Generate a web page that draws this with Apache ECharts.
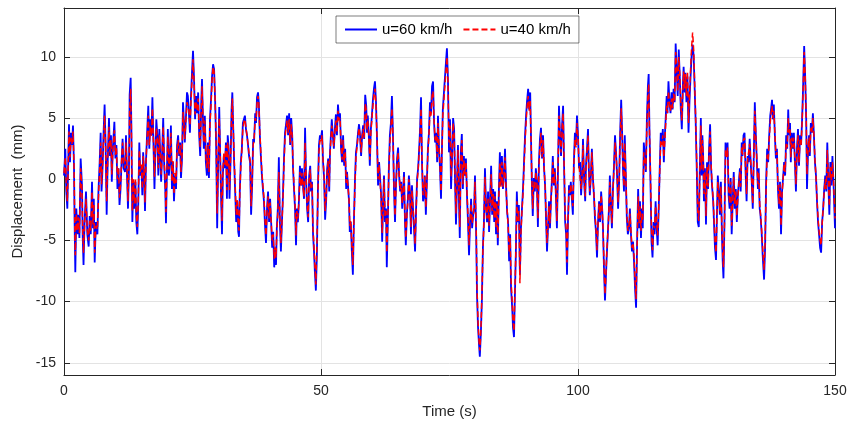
<!DOCTYPE html>
<html>
<head>
<meta charset="utf-8">
<script src="https://cdn.jsdelivr.net/npm/echarts@6/dist/echarts.min.js"></script>
<style>html,body{margin:0;padding:0;background:#fff}#c{width:851px;height:429px}</style>
</head>
<body>
<div id="c"></div>
<script>
// ---- data (time in s, displacement in mm) ----
const t1 = [0,0.26,0.45,0.65,0.97,1.17,1.36,1.56,1.75,1.95,2.07,2.2,2.4,2.6,2.8,3.0,3.24,3.5,3.63,3.8,4.0,4.28,4.54,4.8,5.0,5.2,5.45,5.64,5.8,5.97,6.2,6.5,6.7,6.94,7.13,7.3,7.5,7.7,7.9,8.1,8.3,8.5,8.75,8.95,9.14,9.3,9.5,9.8,10.0,10.2,10.4,10.6,10.8,11.0,11.2,11.4,11.6];
const b1 = [0.3,2.5,-1,-2.4,4.5,1.4,3.8,2.8,4.4,0.9,-3.7,-7.6,-2.4,-4.5,-2.9,-4.8,1.7,-0.5,-4.5,-7.0,-3.5,-1.0,-4.5,-5.5,-3.0,-4.5,-0.2,-4.0,-1.6,-6.8,-3.5,-4.5,-1.0,1.4,3.8,-1.0,0.9,3.8,6.1,2.8,-2.9,1.4,5.0,1.9,3.6,-0.2,2.5,4.7,1.7,2.8,-0.8,0.9,-2.1,-0.8,1.4,3.3,0.9];
const r1 = [0.5,1.8,-0.5,-1.8,3.9,1.8,3.4,2.9,3.9,1.2,-3.0,-6.2,-2.8,-4.2,-3.1,-4.4,0.9,-0.9,-4.0,-6.0,-3.8,-1.6,-4.2,-5.0,-3.4,-4.2,-1.0,-3.7,-2.0,-6.0,-3.8,-4.1,-1.6,0.8,3.0,-0.4,1.2,3.4,5.2,2.6,-1.8,1.6,4.3,2.2,3.2,0.4,2.4,4.0,2.0,2.6,0.0,1.0,-1.5,-0.4,1.4,3.0,1.2];

const t2 = [11.87,12.06,12.26,12.45,12.64,12.77,12.97,13.1,13.3,13.5,13.7,13.9,14.07,14.27,14.46,14.65,14.85,15.05,15.24,15.4,15.6,15.76,15.95,16.2,16.4,16.6,16.8,17.0,17.2,17.4,17.6,17.8,17.96,18.16,18.35,18.55,18.74,18.9,19.1,19.3,19.5,19.7,19.84,20.0,20.2,20.4,20.6,20.8,21.0,21.2,21.4,21.6,21.8,22.0,22.2,22.4,22.6,22.76,22.96,23.15,23.35,23.5,23.74,23.93];
const b2 = [0.6,3.6,0.3,-2.4,0.9,6.9,8.3,4.6,-3.5,-0.2,-2.4,-0.2,-3.5,-4.5,-1.8,3.0,0.3,1.1,-1.3,2.2,0.3,-2.6,1.4,4.1,6.0,2.5,4.9,3.6,6.7,3.0,-0.8,2.5,4.9,3.6,0.3,4.1,1.7,-0.2,2.2,5.0,1.1,-0.8,-3.6,0.1,4.1,0.3,1.4,4.4,-0.8,1.4,-1.8,0.3,-0.8,2.8,3.6,1.9,3.0,0.1,1.7,6.3,4.6,3.0,5.2,7.1];
const r2 = [0.9,3.0,0.8,-1.8,1.2,5.6,7.4,4.4,-2.6,0.0,-2.0,0.1,-3.0,-3.9,-1.5,2.4,0.6,1.2,-0.8,1.9,0.6,-1.9,1.5,3.6,5.2,2.8,4.3,3.5,5.8,3.1,0.2,2.6,4.2,3.4,0.9,3.6,1.9,0.4,2.1,4.3,1.4,-0.3,-2.7,0.5,3.5,0.8,1.6,3.8,-0.2,1.5,-1.2,0.5,-0.3,2.5,3.2,2.1,2.8,0.6,1.9,5.5,4.5,3.3,5.0,6.3];

const t3 = [24.1,24.3,24.5,24.7,24.9,25.1,25.3,25.5,25.7,25.9,26.1,26.3,26.5,26.7,26.85,27.05,27.2,27.4,27.6,27.8,28.0,28.2,28.4,28.6,28.8,29.0,29.2,29.4,29.6,29.8,29.96,30.2,30.35,30.55,30.74,30.9,31.1,31.3,31.5,31.7,31.85,32.0,32.2,32.4,32.6,32.75,32.9,33.1,33.3,33.5,33.7,33.9,34.05,34.2,34.4,34.6,34.8,35.0,35.2,35.4,35.6,35.8,36.0,36.2,36.4];
const b3 = [6.8,5.4,3.8,6.8,8.7,10.5,8.2,4.9,6.8,5.4,7.1,3.6,1.9,6.3,8.2,4.6,2.5,5.2,1.4,0.3,3.0,0.1,4.9,6.5,8.4,9.4,9.0,6.5,2.8,-4.0,0.3,5.9,2.8,-1.3,-4.5,0.3,1.9,0.9,3.0,-1.6,3.6,2.8,-1.6,1.4,5.7,7.1,4.6,1.4,-1.0,-3.5,-1.8,-4.3,-4.7,-1.0,1.4,2.5,4.6,4.9,5.2,4.1,3.6,2.8,1.9,1.4,-2.9];
const r3 = [6.2,5.6,4.4,6.3,8.0,9.8,8.0,5.3,6.4,5.6,6.6,4.0,2.6,5.8,7.6,4.9,3.0,4.8,1.9,0.9,2.8,0.6,4.5,6.0,8.0,9.2,8.8,6.6,3.2,-2.8,0.8,5.0,2.8,-0.6,-3.4,0.6,2.2,1.2,2.8,-0.9,3.0,2.5,-0.9,1.6,5.0,6.6,4.6,1.8,-0.4,-2.9,-1.6,-3.8,-4.2,-1.2,1.0,2.3,4.2,4.7,4.9,4.2,3.6,2.9,2.1,1.6,-2.2];

const t4 = [36.6,36.8,36.97,37.2,37.36,37.55,37.75,37.9,38.1,38.3,38.5,38.7,38.9,39.1,39.3,39.5,39.7,39.9,40.1,40.3,40.5,40.7,40.9,41.05,41.25,41.4,41.6,41.8,42.0,42.2,42.4,42.6,42.8,43.0,43.2,43.4,43.6,43.8,44.0,44.2,44.4,44.56,44.75,44.95,45.14,45.3,45.5,45.7,45.9,46.1,46.3,46.5,46.7,46.9,47.1,47.3,47.5,47.7,47.9,48.06,48.25,48.45,48.64,48.8,49.0];
const b4 = [-0.5,3.3,3.0,5.4,4.6,6.7,7.1,6.3,3.6,1.9,0.3,-0.8,-1.8,-3.7,-5.2,-2.4,-1.0,-3.5,-1.6,-3.5,-5.6,-4.3,-7.2,-5.6,-7.0,-4.0,-2.4,1.8,-3.5,-5.9,-3.5,-1.3,1.7,3.8,4.5,5.2,3.6,5.4,2.8,5.0,3.6,0.9,-0.8,-2.4,-5.4,-2.4,-3.5,-1.8,1.1,-0.5,0.9,-0.5,-1.6,4.2,0.1,-2.4,-3.5,0.3,1.1,-1.0,-0.2,-4.5,-5.9,-7.5,-9.1];
const r4 = [-0.2,2.8,3.2,5.0,4.8,6.2,6.8,6.2,3.8,2.2,0.6,-0.5,-1.5,-3.2,-4.6,-2.6,-1.4,-3.2,-1.9,-3.4,-5.0,-4.5,-6.5,-5.5,-6.4,-4.3,-2.8,0.6,-3.0,-5.2,-3.6,-1.6,1.2,3.4,4.2,4.8,3.8,4.9,3.0,4.5,3.5,1.2,-0.5,-2.0,-4.6,-2.6,-3.2,-1.9,0.6,-0.6,0.5,-0.6,-1.4,3.0,0.2,-2.0,-3.1,0.0,0.8,-0.8,-0.4,-4.0,-5.5,-7.0,-8.6];

const t5 = [49.2,49.4,49.6,49.8,50.0,50.2,50.4,50.6,50.8,51.0,51.2,51.4,51.6,51.75,51.95,52.1,52.3,52.5,52.7,52.9,53.1,53.3,53.5,53.7,53.9,54.1,54.3,54.5,54.7,54.9,55.06,55.25,55.45,55.6,55.8,56.0,56.2,56.4,56.6,56.8,57.0,57.2,57.4,57.6,57.8,58.0,58.2,58.4,58.6,58.8,58.95,59.1,59.3,59.5,59.7,59.9,60.1,60.3,60.5,60.7,60.9,61.1,61.3];
const b5 = [-6.2,-0.8,2.8,3.6,3.3,4.0,1.4,0.1,-3.3,-1.8,0.9,1.7,-1.0,2.2,3.8,4.9,3.6,2.5,4.1,5.3,3.6,6.1,4.9,5.4,2.5,1.4,3.6,1.1,2.5,-0.8,0.6,-0.5,-1.8,-4.3,-3.5,-5.9,-7.8,-3.5,-0.2,2.2,2.8,3.8,4.5,3.6,1.9,3.6,4.4,3.3,6.9,6.0,3.8,5.2,3.6,1.1,4.1,5.2,6.5,7.4,8.0,6.3,3.3,-0.5,1.4];
const r5 = [-5.4,-1.2,2.2,3.2,3.0,3.6,1.6,0.4,-2.6,-1.5,0.7,1.5,-0.6,2.0,3.4,4.4,3.4,2.7,3.9,4.8,3.8,5.6,4.8,5.0,2.8,1.6,3.2,1.4,2.2,-0.3,0.4,-0.6,-1.6,-3.8,-3.4,-5.4,-7.0,-3.6,-0.6,1.8,2.6,3.5,4.2,3.6,2.2,3.4,4.1,3.4,6.2,5.7,4.0,4.8,3.6,1.6,3.8,4.9,6.0,6.9,7.4,6.0,3.4,0.0,1.2];

const t6 = [61.7,61.9,62.1,62.26,62.45,62.65,62.8,63.0,63.2,63.4,63.6,63.8,64.0,64.2,64.4,64.6,64.8,65.0,65.2,65.4,65.6,65.8,66.0,66.15,66.34,66.5,66.7,66.9,67.1,67.3,67.5,67.7,67.9,68.1,68.3,68.5,68.7,68.9,69.1,69.3,69.46,69.65,69.85,70.04,70.2,70.4,70.6,70.8,71.0,71.2,71.4,71.6,71.8,72.0,72.2,72.4,72.6,72.76,72.96,73.15,73.35,73.5,73.7];
const b6 = [-1.3,-5.1,-1.8,0.3,-3.5,-2.4,-7.2,-3.5,0.9,3.6,4.6,6.8,3.6,-0.8,-3.5,-0.2,1.7,2.6,0.3,-1.0,-0.2,-2.4,-0.8,0.6,-3.5,-5.4,-2.9,-1.6,0.3,-1.0,-4.5,-0.5,-2.4,-4.0,-5.9,-2.4,0.1,0.9,2.5,4.4,6.7,1.4,-1.8,-1.3,0.3,-2.9,-0.2,2.5,3.8,6.3,5.4,7.6,8.0,4.6,3.0,3.8,1.4,5.2,2.5,0.9,-1.6,1.9,5.7];
const r6 = [-1.6,-4.4,-2.0,0.0,-3.0,-2.6,-6.0,-3.4,0.6,3.0,4.2,5.8,3.6,-0.4,-3.0,-0.6,1.4,2.2,0.5,-0.8,-0.4,-2.0,-0.9,0.3,-3.0,-4.8,-3.0,-1.8,0.0,-1.2,-3.9,-0.9,-2.3,-3.6,-5.3,-2.6,-0.3,0.8,2.2,4.0,5.8,1.6,-1.3,-1.0,0.2,-2.3,-0.1,2.2,3.6,5.6,5.2,6.8,7.2,4.8,3.2,3.6,1.8,4.6,2.6,1.2,-1.0,1.8,5.2];

const t7 = [74.3,74.5,74.7,74.9,75.1,75.3,75.5,75.7,75.9,76.07,76.26,76.5,76.65,76.85,77.0,77.2,77.4,77.6,77.8,78.0,78.2,78.4,78.6,78.8,79.0,79.2,79.4,79.6,79.8,79.96,80.2,80.35,80.55,80.74,80.9,81.1,81.3,81.5,81.7,81.9,82.1,82.3,82.5,82.7,82.9,83.1,83.3,83.5,83.7,83.85,84.05,84.2,84.4,84.6,84.8,85.0,85.2,85.4,85.6,85.8,86.0,86.2];
const b7 = [9.5,10.7,8.2,2.2,4.9,-0.8,1.7,5.0,4.1,0.1,-3.7,0.3,2.8,-1.8,-4.8,2.2,3.7,-0.8,1.9,0.3,1.7,-1.3,-3.5,-6.2,-3.5,-1.6,-4.0,-2.9,-2.4,0.3,-4.8,-9.4,-12.1,-13.5,-14.5,-12.6,-9.9,-5.6,-3.5,0.9,-2.1,-3.5,-1.0,-4.3,-1.6,1.1,-2.9,-0.8,-3.5,-1.0,-4.5,-1.8,-5.4,-1.0,2.2,-0.5,1.9,-0.8,0.3,2.5,-0.5,-2.6];
const r7 = [8.8,10.0,8.0,3.0,4.4,0.2,1.9,4.6,3.8,0.5,-2.8,0.4,2.4,-1.2,-3.9,1.6,3.2,-0.4,1.6,0.4,1.4,-1.0,-3.0,-5.4,-3.4,-2.0,-3.6,-3.0,-2.2,-0.2,-4.2,-8.8,-11.6,-13.2,-14.0,-12.4,-9.6,-5.8,-3.6,0.2,-2.4,-3.2,-1.6,-3.8,-1.8,0.4,-2.6,-1.2,-3.2,-1.4,-4.0,-2.0,-4.8,-1.4,1.4,-0.6,1.4,-0.6,0.2,1.8,-0.8,-2.4];

const t8 = [86.4,86.6,86.8,86.97,87.2,87.35,87.55,87.7,87.9,88.1,88.3,88.5,88.7,88.9,89.1,89.3,89.5,89.7,89.9,90.07,90.3,90.5,90.7,90.85,91.05,91.2,91.4,91.6,91.8,92.0,92.2,92.4,92.6,92.8,93.0,93.2,93.4,93.6,93.8,93.97,94.16,94.36,94.55,94.75,94.94,95.1,95.3,95.5,95.7,95.9,96.1,96.3,96.5,96.7,96.9,97.1,97.3,97.5,97.7,97.86,98.05,98.25,98.45,98.6];
const b8 = [-3.5,-6.7,-4.5,-8.9,-10.5,-12.1,-12.9,-9.9,-6.2,-1.0,-3.5,-2.1,-7.8,-4.0,-2.4,-0.8,1.4,3.6,5.2,6.3,7.4,5.7,7.1,3.6,-0.8,-3.0,0.1,-1.0,0.9,-0.2,-3.9,1.4,3.3,4.2,1.7,3.6,0.9,-0.5,-3.5,-5.9,-4.0,-1.8,-4.0,-1.6,0.1,1.9,-0.5,0.9,-1.3,-4.0,0.6,6.0,3.6,1.9,4.4,6.0,0.9,-3.5,-4.5,-7.8,-3.5,-0.5,-1.3,-0.2];
const r8 = [-3.8,-6.0,-4.8,-8.2,-10.0,-11.6,-12.4,-9.6,-6.0,-1.8,-3.4,-2.6,-8.5,-4.4,-2.6,-1.2,1.0,3.0,4.6,5.8,6.8,5.6,6.4,3.4,-0.4,-2.4,-0.2,-0.8,0.6,-0.4,-3.2,1.0,2.8,3.8,1.8,3.2,1.0,-0.6,-3.0,-5.2,-4.0,-2.2,-3.6,-1.8,-0.2,1.4,-0.4,0.6,-1.2,-3.4,0.8,5.2,3.6,2.2,4.0,5.4,1.2,-2.8,-4.2,-6.8,-3.6,-0.9,-1.2,-0.4];

const t9 = [99.0,99.2,99.4,99.6,99.8,100.0,100.2,100.4,100.6,100.8,100.97,101.2,101.4,101.55,101.75,101.95,102.1,102.3,102.5,102.7,102.9,103.1,103.3,103.5,103.7,103.9,104.1,104.3,104.5,104.7,104.86,105.05,105.25,105.45,105.6,105.8,106.0,106.2,106.4,106.6,106.8,107.0,107.2,107.4,107.6,107.8,108.0,108.2,108.4,108.6,108.75,108.95,109.1,109.3,109.5,109.7,109.9,110.1,110.3,110.5,110.7,110.9,111.1];
const b9 = [-2.9,1.4,3.8,2.8,5.2,3.6,0.9,1.4,-1.3,0.3,3.3,-0.2,-1.8,1.1,2.5,4.1,0.9,-1.3,0.3,2.5,0.1,-1.3,-3.2,-4.3,-6.4,-3.5,-1.8,-3.5,-1.0,-2.4,-4.0,-7.2,-9.9,-7.8,-6.2,-4.5,-2.6,0.3,-2.1,-4.0,-0.8,1.1,3.6,2.2,0.3,-2.4,-0.2,3.8,6.5,3.6,0.9,-1.0,3.6,0.3,-3.2,-4.5,-4.0,-2.4,-4.5,-5.9,-5.1,-6.7,-8.9];
const r9 = [-2.2,1.2,3.2,2.6,4.6,3.4,1.2,1.2,-0.8,0.4,2.8,-0.2,-1.4,1.0,2.2,3.6,1.0,-1.0,0.2,2.2,0.2,-1.2,-2.8,-4.0,-5.8,-3.6,-2.0,-3.2,-1.3,-2.4,-3.8,-6.8,-9.4,-7.6,-6.0,-4.4,-2.8,-0.2,-2.2,-3.6,-0.9,0.8,3.0,2.2,0.5,-1.9,-0.2,3.3,5.8,3.4,1.0,-0.6,3.0,0.3,-2.8,-4.2,-4.0,-2.8,-4.2,-5.6,-5.2,-6.2,-8.4];

const t10 = [111.3,111.5,111.7,111.9,112.06,112.25,112.45,112.6,112.8,113.0,113.2,113.4,113.6,113.75,113.9,114.1,114.3,114.5,114.7,114.9,115.1,115.3,115.5,115.7,115.9,116.1,116.3,116.5,116.7,116.9,117.05,117.25,117.4,117.6,117.8,118.0,118.2,118.4,118.6,118.8,119.0,119.2,119.4,119.6,119.8,120.0,120.2,120.4,120.55,120.75,120.9,121.1,121.3,121.5,121.7,121.9,122.1,122.3,122.5,122.7,122.9,123.1,123.3,123.5,123.7];
const b10 = [-10.5,-5.1,-0.8,-4.0,-1.8,-4.8,-2.4,-4.0,3.0,1.9,0.6,4.9,7.6,8.6,4.1,-0.2,-5.1,-6.4,-3.5,-4.5,-1.8,-4.0,-5.4,-2.4,0.9,3.8,2.8,4.1,1.4,3.6,4.9,6.8,5.4,8.0,6.3,5.4,7.1,5.7,7.4,6.3,11.1,9.0,6.8,10.6,8.4,5.7,4.1,7.6,9.2,7.1,8.7,6.3,8.4,3.8,6.5,8.4,10.1,11.0,10.1,7.4,4.6,0.9,-3.5,-3.9,0.9];
const r10 = [-9.8,-5.4,-1.4,-3.6,-2.2,-4.2,-2.8,-3.4,2.2,1.6,0.8,4.2,6.8,7.8,4.0,0.4,-4.2,-5.8,-3.8,-4.0,-2.2,-3.6,-4.6,-2.4,0.6,3.2,2.8,3.6,1.8,3.2,4.4,6.0,5.4,7.2,6.2,5.6,6.6,5.8,7.0,6.4,10.4,9.2,7.2,10.0,8.6,6.2,4.8,7.2,8.8,7.4,8.6,6.8,8.8,4.6,7.0,9.0,10.8,12.0,10.6,7.8,4.8,1.4,-2.8,-3.4,0.6];

const t11 = [123.9,124.05,124.2,124.35,124.5,124.7,124.9,125.1,125.3,125.5,125.7,125.9,126.07,126.3,126.5,126.65,126.85,127.0,127.2,127.4,127.6,127.8,128.0,128.15,128.3,128.5,128.7,128.9,129.1,129.3,129.5,129.7,129.9,130.1,130.3,130.5,130.7,130.9,131.1,131.3,131.5,131.65,131.85,132.0,132.2,132.4,132.6,132.8,133.0,133.2,133.4,133.6,133.8,134.0,134.2,134.4,134.6,134.8,135.0,135.15,135.35,135.5,135.74,135.93];
const b11 = [5.0,0.3,3.6,1.9,-1.8,0.9,-3.7,1.4,-0.8,2.5,4.5,0.9,-0.5,-1.8,-4.0,-5.6,-6.6,-3.5,0.3,-1.0,-2.9,-0.2,-4.5,-6.7,-8.1,-3.5,3.0,1.9,3.0,-1.3,-2.4,0.1,-4.5,-1.8,0.6,-2.4,-0.8,-3.5,-1.3,-0.2,0.9,-1.0,3.0,1.9,3.6,3.8,0.6,-1.8,1.9,1.4,3.3,1.4,-0.2,-2.4,1.9,6.3,3.6,1.4,-0.8,0.9,-2.4,-2.9,-4.5,-6.2];
const r11 = [4.4,0.8,3.2,2.0,-1.2,0.6,-3.0,1.0,-0.6,2.2,3.9,1.2,-0.2,-1.6,-3.6,-5.0,-6.0,-3.6,-0.2,-1.2,-2.6,-0.6,-4.0,-6.0,-7.2,-3.6,2.4,1.8,2.6,-0.8,-2.0,-0.2,-3.8,-1.8,0.2,-2.0,-1.0,-3.0,-1.5,-0.4,0.6,-0.6,2.6,2.0,3.2,3.4,1.0,-1.2,1.6,1.5,2.9,1.4,0.0,-2.0,1.6,5.6,3.6,1.6,-0.4,0.6,-2.0,-2.8,-4.2,-5.6];

const t12 = [136.2,136.4,136.6,136.8,137.0,137.2,137.4,137.55,137.75,137.9,138.1,138.3,138.5,138.7,138.9,139.1,139.3,139.5,139.7,139.9,140.1,140.3,140.5,140.7,140.9,141.05,141.25,141.4,141.6,141.8,142.0,142.2,142.4,142.6,142.8,143.0,143.2,143.4,143.6,143.8,144.0,144.2,144.4,144.55,144.75,144.95,145.1,145.3,145.5,145.7,145.9,146.1,146.3,146.5,146.7,146.9,147.1,147.3,147.5,147.7,147.9,148.1,148.3,148.5,148.7,148.9,149.1,149.3,149.5,149.7,150];
const b12 = [-8.2,-5.6,-0.2,2.5,1.4,3.6,5.2,5.7,6.5,4.9,6.1,3.6,1.7,2.5,-0.8,-2.4,-0.2,-4.5,-1.0,0.1,1.4,0.3,3.6,2.5,5.7,3.6,4.6,1.4,3.8,2.5,3.8,1.4,-1.0,2.5,4.1,1.1,3.6,2.8,4.9,7.6,10.9,8.4,4.9,-0.8,2.2,3.6,1.9,4.6,3.8,5.4,3.6,1.4,0.3,-1.8,-3.5,-4.5,-5.6,-6.0,-3.5,-2.4,-0.8,0.3,-1.0,3.0,-0.2,-2.9,1.4,-0.5,1.9,-0.2,-4.0];
const r12 = [-7.4,-5.2,-0.8,2.0,1.6,3.2,4.6,5.4,6.0,5.0,5.6,3.8,2.0,2.2,-0.4,-2.0,-0.4,-3.8,-1.2,0.0,1.2,0.6,3.0,2.6,5.0,3.8,4.2,1.8,3.4,2.6,3.4,1.6,-0.4,2.2,3.6,1.4,3.2,2.8,4.6,7.2,10.4,8.6,5.0,0.4,2.4,3.4,2.2,4.2,3.8,5.0,3.6,1.6,0.2,-1.6,-3.2,-4.2,-5.0,-5.4,-3.6,-2.4,-1.0,0.0,-0.8,2.4,0.2,-2.2,1.0,-0.2,1.4,0.0,-3.2];

const xTicks = [0, 50, 100, 150];
const yTicks = [-15, -10, -5, 0, 5, 10];
const seriesNames = ['u=60 km/h', 'u=40 km/h'];

// ---- build series ----
const segsT = [t1,t2,t3,t4,t5,t6,t7,t8,t9,t10,t11,t12];
const segsB = [b1,b2,b3,b4,b5,b6,b7,b8,b9,b10,b11,b12];
const segsR = [r1,r2,r3,r4,r5,r6,r7,r8,r9,r10,r11,r12];
function pairs(ts, vs) {
  const out = [];
  for (let s = 0; s < ts.length; s++) {
    const n = Math.min(ts[s].length, vs[s].length);
    for (let i = 0; i < n; i++) out.push([ts[s][i], vs[s][i]]);
  }
  return out;
}
const blueData = pairs(segsT, segsB);
const redData = pairs(segsT, segsR);

const axisCol = '#262626';
const gridCol = '#e3e3e3';
const font = 'Liberation Sans, Arial, Helvetica, sans-serif';

const chart = echarts.init(document.getElementById('c'), null, {renderer: 'canvas'});
chart.setOption({
  animation: false,
  backgroundColor: '#ffffff',
  grid: {left: 64, right: 16, top: 8, bottom: 54, containLabel: false},
  legend: {
    data: [
      {name: seriesNames[0]},
      {name: seriesNames[1]}
    ],
    left: 336, top: 16,
    itemWidth: 32, itemHeight: 10, itemGap: 10,
    padding: [6, 8, 6, 8],
    backgroundColor: '#ffffff',
    borderColor: axisCol, borderWidth: 0.6,
    itemStyle: {opacity: 0},
    textStyle: {fontFamily: font, fontSize: 15, color: '#000'}
  },
  xAxis: [{
    type: 'value', min: 0, max: 150, interval: 50,
    name: 'Time (s)', nameLocation: 'middle', nameGap: 29,
    nameTextStyle: {fontFamily: font, fontSize: 15, color: axisCol},
    axisLine: {show: true, onZero: false, lineStyle: {color: axisCol, width: 1}},
    axisTick: {show: true, inside: true, length: 6, lineStyle: {color: axisCol}},
    axisLabel: {fontFamily: font, fontSize: 14, color: axisCol, margin: 9,
      customValues: xTicks},
    splitLine: {show: true, lineStyle: {color: gridCol, width: 1}}
  }, {
    type: 'value', min: 0, max: 150, interval: 50, position: 'top',
    axisLine: {show: true, onZero: false, lineStyle: {color: axisCol, width: 1}},
    axisTick: {show: true, inside: true, length: 6, lineStyle: {color: axisCol}},
    axisLabel: {show: false}, splitLine: {show: false}
  }],
  yAxis: [{
    type: 'value', min: -16, max: 14,
    name: 'Displacement  (mm)', nameLocation: 'middle', nameGap: 31,
    nameTextStyle: {fontFamily: font, fontSize: 15, color: axisCol},
    axisLine: {show: true, onZero: false, lineStyle: {color: axisCol, width: 1}},
    axisTick: {show: true, inside: true, length: 6, lineStyle: {color: axisCol}, customValues: yTicks},
    axisLabel: {fontFamily: font, fontSize: 14, color: axisCol, margin: 8, customValues: yTicks},
    splitLine: {show: true, lineStyle: {color: gridCol, width: 1}}
  }, {
    type: 'value', min: -16, max: 14, position: 'right',
    axisLine: {show: true, onZero: false, lineStyle: {color: axisCol, width: 1}},
    axisTick: {show: true, inside: true, length: 6, lineStyle: {color: axisCol}, customValues: yTicks},
    axisLabel: {show: false, customValues: yTicks}, splitLine: {show: false}
  }],
  series: [{
    name: seriesNames[0], type: 'line', xAxisIndex: 0, yAxisIndex: 0,
    data: blueData, symbol: 'none', showSymbol: false, z: 2,
    lineStyle: {color: '#0000ff', width: 1.8},
    itemStyle: {color: '#0000ff'}
  }, {
    name: seriesNames[1], type: 'line', xAxisIndex: 0, yAxisIndex: 0,
    data: redData, symbol: 'none', showSymbol: false, z: 3,
    lineStyle: {color: '#ff0000', width: 1.5, type: [6, 3]},
    itemStyle: {color: '#ff0000'}
  }]
});
</script>
</body>
</html>
